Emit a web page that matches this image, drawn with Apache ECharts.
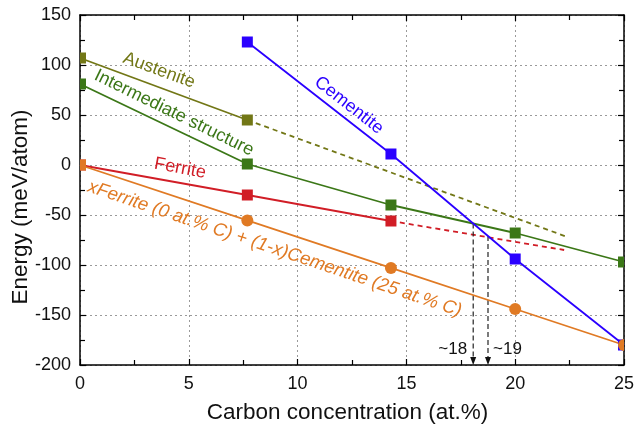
<!DOCTYPE html>
<html>
<head>
<meta charset="utf-8">
<script src="https://cdn.jsdelivr.net/npm/echarts@6/dist/echarts.min.js"></script>
<style>
  html, body { margin: 0; padding: 0; background: #ffffff; }
  #chart { width: 636px; height: 424px; }
</style>
</head>
<body>
<div id="chart"></div>
<script>
// Carbon concentrations (at.%) of the computed structures
const carbon = [0, 7.69, 14.29, 20, 25];

// Formation energies (meV/atom)
const austenite = [107, 45];                 // at carbon[0..1]
const austeniteTrend = [[7.69, 45], [22.4, -72]];
const intermediate = [81, 1, -40, -68, -97]; // at carbon[0..4]
const ferrite = [0, -30, -56];               // at carbon[0..2]
const ferriteTrend = [[14.29, -56], [22.25, -85]];
const cementite = [123, 11, -94, -180];      // at carbon[1..4]
const mixture = [0, -55.4, -102.9, -144, -180]; // at carbon[0..4]

// Crossing points marked with arrows
const crossings = [[18.07, -58.5], [18.75, -71]];
const crossingLabels = ['~18', '~19'];

// Axis ticks
const xTicks = [0, 5, 10, 15, 20, 25];
const yTicks = [-200, -150, -100, -50, 0, 50, 100, 150];

const FONT = '"Liberation Sans", Arial, sans-serif';
const C = {
  austenite: '#727716',
  intermediate: '#3b7717',
  ferrite: '#d11d26',
  cementite: '#2a00ff',
  mixture: '#e07a24'
};

const xMin = xTicks[0], xMax = xTicks[xTicks.length - 1];
const yMin = yTicks[0], yMax = yTicks[yTicks.length - 1];

// Markers sitting on the plot frame are cut in half by it
const HALF_CIRCLE_LEFT = 'path://M10,0 A10,10 0 0 0 10,20 Z';
function point(x, y, shape) {
  const item = { value: [x, y] };
  if (x === xMin) {
    item.symbol = 'rect';
    item.symbolSize = [6, 11];
    item.symbolOffset = [3, 0];
  } else if (x === xMax) {
    if (shape === 'circle') {
      item.symbol = HALF_CIRCLE_LEFT;
      item.symbolSize = [6, 12];
      item.symbolOffset = [-3, 0];
    } else {
      item.symbol = 'rect';
      item.symbolSize = [6, 11];
      item.symbolOffset = [-3, 0];
    }
  }
  return item;
}
function pairs(xs, ys, shape) {
  return ys.map((y, i) => point(xs[i], y, shape));
}

function solid(name, color, data, symbol, size) {
  return {
    name, type: 'line', data, symbol, symbolSize: size,
    lineStyle: { color, width: 1.8 },
    itemStyle: { color },
    animation: false, z: 3
  };
}
function dashed(name, color, data) {
  return {
    name, type: 'line', data, symbol: 'none',
    lineStyle: { color, width: 1.8, type: [5, 4] },
    animation: false, z: 2
  };
}
function arrow(pt) {
  return {
    type: 'line',
    data: [
      { value: pt, symbol: 'none' },
      { value: [pt[0], yMin + 4], symbol: 'triangle', symbolSize: [6, 8], symbolRotate: 180 }
    ],
    lineStyle: { color: '#222', width: 1.2, type: [5, 3] },
    itemStyle: { color: '#111' },
    animation: false, z: 2
  };
}

const frameLine = { show: true, onZero: false, lineStyle: { color: '#000', width: 1.5 } };
const inTick = { show: true, inside: true, length: 6, lineStyle: { color: '#000', width: 1.2 } };
const inMinor = { show: true, splitNumber: 2, length: 5, lineStyle: { color: '#000', width: 1.2 } };
const dotted = { show: true, lineStyle: { color: '#9a9a9a', width: 1, type: [2, 3] } };

const mixtureData = pairs(carbon, mixture, 'circle');
mixtureData[0].symbol = 'rect';

const option = {
  backgroundColor: '#ffffff',
  animation: false,
  grid: { left: 80, right: 12, top: 15, bottom: 59, containLabel: false, outerBoundsMode: 'none' },
  xAxis: [
    {
      type: 'value', min: xMin, max: xMax, interval: 5, position: 'bottom',
      axisLine: frameLine, axisTick: inTick, minorTick: inMinor,
      splitLine: dotted,
      axisLabel: { fontSize: 18, color: '#111', margin: 10, fontFamily: FONT },
      name: 'Carbon concentration (at.%)', nameLocation: 'middle', nameGap: 36,
      nameTextStyle: { fontSize: 22.5, color: '#111', fontFamily: FONT, padding: [0, 9, 0, 0] }
    },
    {
      type: 'value', min: xMin, max: xMax, interval: 5, position: 'top',
      axisLine: frameLine, axisTick: inTick, minorTick: inMinor,
      splitLine: { show: false }, axisLabel: { show: false }
    }
  ],
  yAxis: [
    {
      type: 'value', min: yMin, max: yMax, interval: 50, position: 'left',
      axisLine: frameLine, axisTick: inTick, minorTick: inMinor,
      splitLine: dotted,
      axisLabel: { fontSize: 18, color: '#111', margin: 9, fontFamily: FONT }
    },
    {
      type: 'value', min: yMin, max: yMax, interval: 50, position: 'right',
      axisLine: frameLine, axisTick: inTick, minorTick: inMinor,
      splitLine: { show: false }, axisLabel: { show: false }
    }
  ],
  series: [
    dashed('Austenite trend', C.austenite, austeniteTrend),
    dashed('Ferrite trend', C.ferrite, ferriteTrend),
    arrow(crossings[0]),
    arrow(crossings[1]),
    solid('Austenite', C.austenite, pairs(carbon, austenite), 'rect', 11),
    solid('Intermediate structure', C.intermediate, pairs(carbon, intermediate), 'rect', 11),
    solid('Cementite', C.cementite, pairs(carbon.slice(1), cementite), 'rect', 11),
    solid('Ferrite', C.ferrite, pairs(carbon, ferrite), 'rect', 11),
    solid('Mixture', C.mixture, mixtureData, 'circle', 12)
  ]
};

const chart = echarts.init(document.getElementById('chart'), null, { renderer: 'canvas' });
chart.setOption(option);

// In-plot curve labels, anchored in data space and turned along their curves
const curveLabels = [
  { text: 'Austenite', at: [3.63, 94.6], angle: 20, color: C.austenite, italic: false },
  { text: 'Intermediate structure', at: [4.32, 52], angle: 26, color: C.intermediate, italic: false },
  { text: 'Cementite', at: [12.36, 59.6], angle: 38, color: C.cementite, italic: false },
  { text: 'Ferrite', at: [4.6, -3.4], angle: 10.5, color: C.ferrite, italic: false },
  { text: 'xFerrite (0 at.% C) + (1-x)Cementite (25 at.% C)', at: [8.95, -84], angle: 18.6, color: C.mixture, italic: true }
];

const graphics = curveLabels.map(l => {
  const p = chart.convertToPixel({ gridIndex: 0 }, l.at);
  return {
    type: 'text', x: p[0], y: p[1], rotation: -l.angle * Math.PI / 180, z: 20,
    style: {
      text: l.text, x: 0, y: 0, align: 'center', verticalAlign: 'middle',
      fill: l.color, fontSize: l.italic ? 18.5 : 18, fontFamily: FONT,
      fontStyle: l.italic ? 'italic' : 'normal'
    }
  };
});

crossings.forEach((c, i) => {
  const p = chart.convertToPixel({ gridIndex: 0 }, [c[0], yMin + 16]);
  graphics.push({
    type: 'text', x: i === 0 ? p[0] - 6 : p[0] + 5, y: p[1], z: 20,
    style: {
      text: crossingLabels[i], x: 0, y: 0,
      align: i === 0 ? 'right' : 'left', verticalAlign: 'middle',
      fill: '#111', fontSize: 17, fontFamily: FONT
    }
  });
});

// Vertical title of the energy axis
graphics.push({
  type: 'text', x: 21, y: 207, rotation: Math.PI / 2, z: 20,
  style: {
    text: 'Energy (meV/atom)', x: 0, y: 0, align: 'center', verticalAlign: 'middle',
    fill: '#111', fontSize: 22.5, fontFamily: FONT
  }
});

chart.setOption({ graphic: graphics });
</script>
</body>
</html>
